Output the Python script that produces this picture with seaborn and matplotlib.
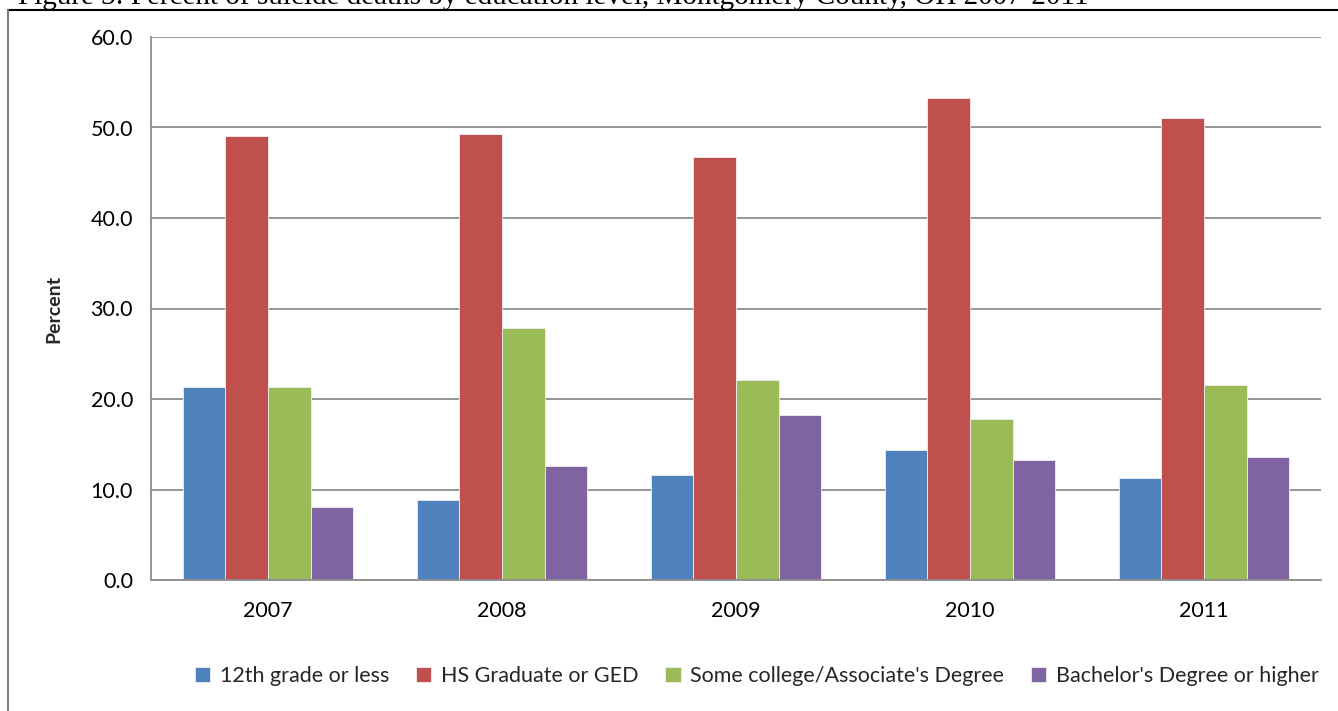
import pandas as pd
import matplotlib
matplotlib.use("Agg")
import matplotlib.pyplot as plt
from matplotlib.lines import Line2D
import seaborn as sns

years = ["2007", "2008", "2009", "2010", "2011"]
levels = ["12th grade or less", "HS Graduate or GED",
          "Some college/Associate's Degree", "Bachelor's Degree or higher"]
grade12_or_less = [21.3, 8.8, 11.6, 14.4, 11.3]
hs_grad_or_ged = [49.1, 49.3, 46.7, 53.3, 51.1]
some_college = [21.3, 27.9, 22.1, 17.8, 21.6]
bachelor_plus = [8.1, 12.6, 18.2, 13.3, 13.6]
colors = ["#4F81BD", "#C0504D", "#9BBB59", "#8064A2"]

rows = []
for level, vals in zip(levels, [grade12_or_less, hs_grad_or_ged, some_college, bachelor_plus]):
    for yr, v in zip(years, vals):
        rows.append({"Year": yr, "Education": level, "Percent": v})
df = pd.DataFrame(rows)

sns.set_theme(style="white")
plt.rcParams['font.family'] = ['Lato', 'DejaVu Sans']

W, H = 1338, 711
fig = plt.figure(figsize=(W / 100, H / 100), dpi=100)
ax = fig.add_axes([151 / W, (H - 580) / H, 1170 / W, 543 / H])

sns.barplot(data=df, x="Year", y="Percent", hue="Education", order=years,
            hue_order=levels, palette=colors, saturation=1, width=0.73,
            edgecolor="#f0f0f0", linewidth=0.6, ax=ax)

grid_c = "#8c8c8c"
ax.set_ylim(0, 60)
ax.set_xlim(-0.5, 4.5)
ax.set_yticks(range(0, 61, 10))
ax.set_yticklabels([f"{v:.1f}" for v in range(0, 61, 10)])
ax.yaxis.grid(True, color=grid_c, linewidth=1.3)
ax.set_axisbelow(True)
for s in ["top", "right"]:
    ax.spines[s].set_visible(False)
for s in ["left", "bottom"]:
    ax.spines[s].set_color(grid_c)
    ax.spines[s].set_linewidth(1.3)

ax.set_xticks(range(len(years)))
ax.set_xticks([i - 0.5 for i in range(len(years) + 1)], minor=True)
ax.tick_params(axis="x", which="major", length=0, labelsize=15.5, pad=15, colors="black")
ax.tick_params(axis="x", which="minor", length=7, width=1.3, color=grid_c, direction="out")
ax.tick_params(axis="y", length=7, width=1.3, color=grid_c, direction="out",
               labelsize=15.5, pad=6, labelcolor="black")
ax.set_xlabel("")
ax.set_ylabel("Percent", fontsize=14, fontweight="bold", labelpad=20)

handles, labels = ax.get_legend_handles_labels()
ax.legend_.remove()
fig.legend(handles, labels, loc="center", bbox_to_anchor=(757 / W, (H - 676) / H),
           ncol=4, frameon=False, fontsize=15.5, handlelength=0.7, handleheight=0.7,
           handletextpad=0.45, columnspacing=1.25)

# outer frame of the chart
fig.add_artist(Line2D([7.5 / W, 1.0], [(H - 10) / H, (H - 10) / H], color="black", linewidth=1.5))
fig.add_artist(Line2D([7.5 / W, 7.5 / W], [0, (H - 10) / H], color="#808080", linewidth=1.5))

# figure caption, cut off by the top edge
fig.text(18 / W, (H - 4) / H,
         "Figure 3: Percent of suicide deaths by education level, Montgomery County, OH 2007-2011",
         fontsize=21, fontfamily="Liberation Serif", va="baseline", ha="left", color="black")

fig.savefig("out.png", dpi=100)
